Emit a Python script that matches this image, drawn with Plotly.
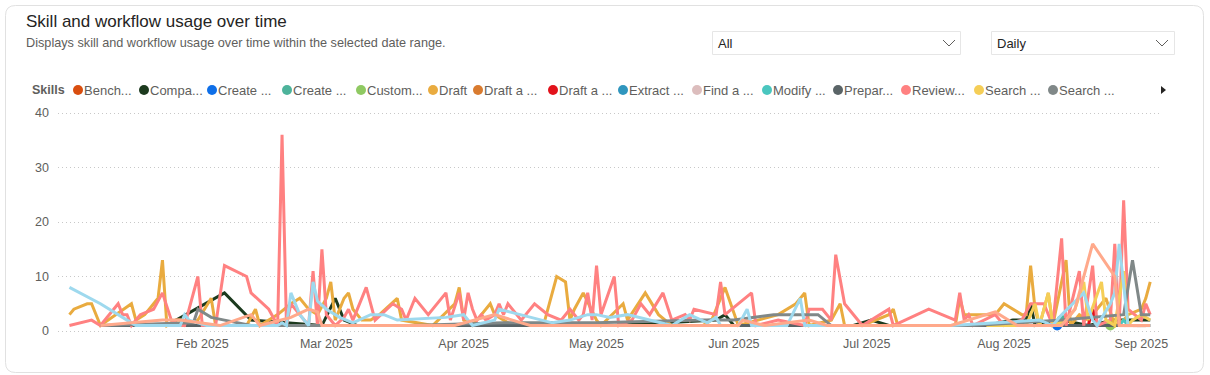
import plotly.graph_objects as go

W, H = 1210, 375

# ---------------- data ----------------
legend_names = ["Bench...", "Compa...", "Create ...", "Create ...", "Custom...", "Draft",
                "Draft a ...", "Draft a ...", "Extract ...", "Find a ...", "Modify ...",
                "Prepar...", "Review...", "Search ...", "Search ..."]
extra_names = ["Skill 16", "Skill 17"]

month_ticks = ["2025-02-01", "2025-03-01", "2025-04-01", "2025-05-01",
               "2025-06-01", "2025-07-01", "2025-08-01", "2025-09-01"]
month_labels = ["Feb 2025", "Mar 2025", "Apr 2025", "May 2025",
                "Jun 2025", "Jul 2025", "Aug 2025", "Sep 2025"]
y_ticks = [0, 10, 20, 30, 40]

bench_dates = ["2025-08-27", "2025-09-02"]
bench_values = [1, 1]

compa_dates = ["2025-01-25", "2025-02-06", "2025-02-12", "2025-02-20", "2025-02-28", "2025-03-03",
               "2025-03-05", "2025-03-08", "2025-04-08", "2025-05-05", "2025-05-28", "2025-05-30",
               "2025-06-01", "2025-06-28", "2025-07-02", "2025-07-06", "2025-07-28", "2025-08-03",
               "2025-08-06", "2025-08-07", "2025-08-08", "2025-08-14", "2025-08-20", "2025-08-26",
               "2025-09-03"]
compa_values = [1.5, 7, 2, 1.5, 1, 6, 2, 1, 1, 1, 2, 3, 1, 1, 2, 1, 1, 2, 2, 5, 1, 2, 1, 2, 2]

create1_dates = ["2025-08-13"]
create1_values = [1]

create2_dates = ["2025-08-14"]
create2_values = [2]

custom_dates = ["2025-08-25"]
custom_values = [1]

draft_dates = ["2025-01-02", "2025-01-03", "2025-01-06", "2025-01-07", "2025-01-09", "2025-01-16",
               "2025-01-17", "2025-01-19", "2025-01-20", "2025-01-22", "2025-01-23", "2025-01-24",
               "2025-01-26", "2025-01-27", "2025-01-28", "2025-01-31", "2025-02-03", "2025-02-04",
               "2025-02-11", "2025-02-13", "2025-02-14", "2025-02-18", "2025-02-21", "2025-02-23",
               "2025-02-25", "2025-02-27", "2025-03-01", "2025-03-02", "2025-03-03", "2025-03-05",
               "2025-03-06", "2025-03-07", "2025-03-09", "2025-03-11", "2025-03-13", "2025-03-17",
               "2025-03-18", "2025-03-25", "2025-03-30", "2025-03-31", "2025-04-01", "2025-04-03",
               "2025-04-05", "2025-04-07", "2025-04-08", "2025-04-12", "2025-04-19", "2025-04-22",
               "2025-04-24", "2025-04-25", "2025-04-26", "2025-04-28", "2025-05-01", "2025-05-02",
               "2025-05-07", "2025-05-08", "2025-05-12", "2025-05-15", "2025-05-18", "2025-05-25",
               "2025-05-27", "2025-05-30", "2025-06-02", "2025-06-11", "2025-06-15", "2025-06-17",
               "2025-06-18", "2025-06-23", "2025-06-25", "2025-06-26", "2025-06-30", "2025-07-06",
               "2025-07-07", "2025-07-08", "2025-07-21", "2025-07-22", "2025-07-23", "2025-07-28",
               "2025-07-30", "2025-08-01", "2025-08-05", "2025-08-06", "2025-08-07", "2025-08-08",
               "2025-08-09", "2025-08-11", "2025-08-12", "2025-08-15", "2025-08-16", "2025-08-18",
               "2025-08-20", "2025-08-24", "2025-08-26", "2025-08-28", "2025-08-29", "2025-09-01",
               "2025-09-02", "2025-09-03"]
draft_values = [3, 4, 5, 5, 1, 5,
                2, 3, 4, 6, 13, 1,
                2, 2, 1, 2, 6, 1,
                1, 4, 1, 3, 5, 6,
                4, 3, 6, 9, 2, 6,
                7, 4, 2, 2, 3, 6,
                2, 1, 5, 8, 2, 1,
                3, 5, 3, 1, 1, 10,
                9, 2, 4, 7, 2, 1,
                5, 2, 7, 3, 1, 1,
                2, 8, 1, 3, 5, 7,
                1, 2, 5, 1, 1, 3,
                4, 1, 1, 6, 3, 3,
                3, 5, 3, 3, 12, 4,
                1, 7, 1, 13, 1, 3,
                2, 6, 1, 2, 3, 4,
                6, 9]

drafta1_dates = ["2025-08-30", "2025-09-02"]
drafta1_values = [1, 1]

drafta2_dates = ["2025-08-20", "2025-08-21", "2025-08-22"]
drafta2_values = [1, 4, 1]

extract_dates = ["2025-08-31", "2025-09-03"]
extract_values = [1, 1]

finda_dates = ["2025-08-28", "2025-09-01"]
finda_values = [1, 1]

modify_dates = ["2025-08-27", "2025-08-28", "2025-08-29"]
modify_values = [1, 2, 1]

prepar_dates = ["2025-01-09", "2025-02-10", "2025-03-01", "2025-04-15", "2025-05-20", "2025-06-10",
                "2025-07-15", "2025-08-13", "2025-08-30", "2025-09-03"]
prepar_values = [1, 1, 1, 1, 1, 1, 1, 1, 1, 1]

review_dates = ["2025-01-02", "2025-01-07", "2025-01-09", "2025-01-13", "2025-01-14", "2025-01-15",
                "2025-01-16", "2025-01-18", "2025-01-21", "2025-01-23", "2025-01-25", "2025-01-27",
                "2025-01-28", "2025-01-31", "2025-02-01", "2025-02-04", "2025-02-06", "2025-02-11",
                "2025-02-12", "2025-02-16", "2025-02-18", "2025-02-19", "2025-02-20", "2025-02-21",
                "2025-02-23", "2025-02-25", "2025-02-26", "2025-02-27", "2025-02-28", "2025-03-01",
                "2025-03-03", "2025-03-05", "2025-03-06", "2025-03-07", "2025-03-10", "2025-03-12",
                "2025-03-16", "2025-03-18", "2025-03-19", "2025-03-21", "2025-03-24", "2025-03-28",
                "2025-03-29", "2025-03-31", "2025-04-01", "2025-04-02", "2025-04-03", "2025-04-04",
                "2025-04-05", "2025-04-06", "2025-04-08", "2025-04-09", "2025-04-10", "2025-04-11",
                "2025-04-14", "2025-04-17", "2025-04-20", "2025-04-23", "2025-04-25", "2025-04-27",
                "2025-04-28", "2025-04-29", "2025-04-30", "2025-05-01", "2025-05-02", "2025-05-05",
                "2025-05-06", "2025-05-09", "2025-05-11", "2025-05-13", "2025-05-16", "2025-05-18",
                "2025-05-21", "2025-05-22", "2025-05-23", "2025-05-28", "2025-05-29", "2025-05-30",
                "2025-06-05", "2025-06-06", "2025-06-11", "2025-06-17", "2025-06-18", "2025-06-21",
                "2025-06-23", "2025-06-24", "2025-06-26", "2025-06-30", "2025-07-04", "2025-07-06",
                "2025-07-07", "2025-07-15", "2025-07-21", "2025-07-22", "2025-07-23", "2025-07-24",
                "2025-07-25", "2025-07-30", "2025-08-01", "2025-08-05", "2025-08-07", "2025-08-10",
                "2025-08-12", "2025-08-14", "2025-08-15", "2025-08-18", "2025-08-19", "2025-08-21",
                "2025-08-22", "2025-08-25", "2025-08-26", "2025-08-27", "2025-08-28", "2025-08-29",
                "2025-09-01", "2025-09-02", "2025-09-03"]
review_values = [1, 2, 1, 5, 3, 3,
                 1, 3, 4, 7, 2, 1,
                 1, 10, 1, 1, 12, 10,
                 7, 4, 1, 36, 1, 5,
                 3, 1, 11, 1, 15, 3,
                 1, 2.5, 4, 2, 8, 2,
                 5, 4, 2, 6, 3, 7,
                 2, 7, 2, 7, 4, 2,
                 3, 2, 3, 5, 3, 5,
                 2, 5, 3, 2, 4, 2,
                 3, 7, 2, 12, 3, 10,
                 1, 2, 5, 3, 7, 2,
                 3, 2, 4, 3, 9, 3,
                 7, 1, 2, 1, 4, 4,
                 2, 14, 5, 1, 3, 4,
                 1, 4, 2, 7, 2, 3,
                 1, 3, 1, 2, 5, 5,
                 1, 17, 1, 11, 1, 12,
                 1, 2, 16, 1, 24, 4,
                 2, 5, 3]

search1_dates = ["2025-07-28", "2025-08-06", "2025-08-08", "2025-08-09", "2025-08-11", "2025-08-12",
                 "2025-08-15", "2025-08-17", "2025-08-19", "2025-08-20", "2025-08-23", "2025-08-24",
                 "2025-08-26", "2025-08-28", "2025-08-29", "2025-08-30", "2025-09-01", "2025-09-03"]
search1_values = [1, 1, 5, 1, 7, 1, 2, 4, 9, 2, 9, 2, 1, 11, 1, 2, 3, 2]

search2_dates = ["2025-01-09", "2025-01-30", "2025-01-31", "2025-02-03", "2025-02-06", "2025-02-12",
                 "2025-03-20", "2025-04-10", "2025-05-01", "2025-05-25", "2025-06-01", "2025-06-10",
                 "2025-06-20", "2025-06-23", "2025-07-25", "2025-08-14", "2025-08-28", "2025-08-30",
                 "2025-09-01", "2025-09-03"]
search2_values = [1, 1.5, 4, 2.5, 2, 1, 1, 1.5, 1.5, 2, 2, 3, 3, 1, 1, 2, 3, 13, 3, 3]

skill16_dates = ["2025-01-02", "2025-01-09", "2025-01-15", "2025-01-17", "2025-01-27", "2025-01-28",
                 "2025-01-29", "2025-02-02", "2025-02-18", "2025-02-19", "2025-02-20", "2025-02-21",
                 "2025-02-23", "2025-02-25", "2025-02-26", "2025-02-27", "2025-03-01", "2025-03-04",
                 "2025-03-07", "2025-03-11", "2025-03-14", "2025-03-17", "2025-03-28", "2025-04-01",
                 "2025-04-03", "2025-04-08", "2025-04-09", "2025-04-14", "2025-04-21", "2025-04-25",
                 "2025-04-29", "2025-05-01", "2025-05-04", "2025-05-08", "2025-05-18", "2025-05-22",
                 "2025-05-26", "2025-05-28", "2025-05-29", "2025-06-02", "2025-06-04", "2025-06-05",
                 "2025-06-13", "2025-06-16", "2025-06-17", "2025-07-20", "2025-08-09", "2025-08-12",
                 "2025-08-14", "2025-08-19", "2025-08-21", "2025-08-22", "2025-08-25", "2025-08-26",
                 "2025-08-27", "2025-08-29"]
skill16_values = [8, 5, 2, 1, 1, 3,
                  2, 1, 1, 1.5, 1, 7,
                  3, 1, 9, 5.5, 4, 2.5,
                  1.5, 3, 3, 2, 2.5, 3,
                  1, 2, 4, 3, 1.5, 2,
                  3, 3, 2.5, 3, 1, 3,
                  1.5, 2.5, 1, 1, 4, 1,
                  1, 6, 1, 1, 2, 1,
                  3, 7, 2, 1, 5, 7,
                  16, 1]

skill17_dates = ["2025-01-09", "2025-01-23", "2025-01-27", "2025-02-05", "2025-02-12", "2025-02-14",
                 "2025-02-21", "2025-02-25", "2025-02-27", "2025-02-28", "2025-03-30", "2025-04-08",
                 "2025-04-12", "2025-04-16", "2025-06-02", "2025-06-03", "2025-06-08", "2025-06-18",
                 "2025-06-22", "2025-07-20", "2025-07-30", "2025-08-04", "2025-08-14", "2025-08-17",
                 "2025-08-21", "2025-08-26", "2025-08-27", "2025-09-03"]
skill17_values = [1, 2, 2, 1, 3, 1,
                  2.5, 4, 3.5, 1, 1, 3,
                  2, 1, 1, 2, 1, 2,
                  1, 1, 3.5, 1, 1, 4,
                  16, 10, 1, 1]

# ---------------- styles ----------------
legend_colors = ["#D94E0F", "#1C3A1E", "#0F6FE8", "#4DB39B", "#8FC962", "#E9AB3F",
                 "#D97B2F", "#E2121B", "#3096BE", "#DCBDBD", "#4AC6BF", "#5A6467",
                 "#FF8181", "#F5CE57", "#808888"]
extra_colors = ["#9ED9EE", "#FFA98B"]
legend_x = [78, 144, 212, 287, 361, 433, 478, 553, 623, 697, 767, 838, 906, 979, 1053]

FONT = "Liberation Sans, Arial, sans-serif"
GRAY = "#605E5C"
DARK = "#252423"


def px(x):
    return x / W


def py(y):
    return 1 - y / H


series = [
    (legend_names[0], bench_dates, bench_values, legend_colors[0]),
    (legend_names[1], compa_dates, compa_values, legend_colors[1]),
    (legend_names[2], create1_dates, create1_values, legend_colors[2]),
    (legend_names[3], create2_dates, create2_values, legend_colors[3]),
    (legend_names[4], custom_dates, custom_values, legend_colors[4]),
    (legend_names[5], draft_dates, draft_values, legend_colors[5]),
    (legend_names[6], drafta1_dates, drafta1_values, legend_colors[6]),
    (legend_names[7], drafta2_dates, drafta2_values, legend_colors[7]),
    (legend_names[8], extract_dates, extract_values, legend_colors[8]),
    (legend_names[9], finda_dates, finda_values, legend_colors[9]),
    (legend_names[10], modify_dates, modify_values, legend_colors[10]),
    (legend_names[11], prepar_dates, prepar_values, legend_colors[11]),
    (legend_names[12], review_dates, review_values, legend_colors[12]),
    (legend_names[13], search1_dates, search1_values, legend_colors[13]),
    (legend_names[14], search2_dates, search2_values, legend_colors[14]),
    (extra_names[0], skill16_dates, skill16_values, extra_colors[0]),
    (extra_names[1], skill17_dates, skill17_values, extra_colors[1]),
]

fig = go.Figure()
for name, d, v, c in series:
    fig.add_trace(go.Scatter(
        x=d, y=v, name=name,
        mode="lines" if len(v) > 1 else "markers",
        line=dict(color=c, width=3),
        marker=dict(color=c, size=10),
        showlegend=False, hoverinfo="x+y+name",
    ))

shapes = []
# card border (rounded)
x0, y0, x1, y1, r = 5.5, 5.5, 1203.5, 372.5, 10
card = (f"M {px(x0 + r)},{py(y0)} L {px(x1 - r)},{py(y0)} Q {px(x1)},{py(y0)} {px(x1)},{py(y0 + r)} "
        f"L {px(x1)},{py(y1 - r)} Q {px(x1)},{py(y1)} {px(x1 - r)},{py(y1)} "
        f"L {px(x0 + r)},{py(y1)} Q {px(x0)},{py(y1)} {px(x0)},{py(y1 - r)} "
        f"L {px(x0)},{py(y0 + r)} Q {px(x0)},{py(y0)} {px(x0 + r)},{py(y0)} Z")
shapes.append(dict(type="path", xref="paper", yref="paper", path=card,
                   line=dict(color="#E1E1E1", width=1), layer="below"))

# dropdown boxes + chevrons
for bx0, bx1, cx in [(712.5, 960.5, 949), (991.5, 1174.5, 1162)]:
    shapes.append(dict(type="rect", xref="paper", yref="paper",
                       x0=px(bx0), x1=px(bx1), y0=py(54.5), y1=py(31.5),
                       line=dict(color="#E6E6E6", width=1), fillcolor="white"))
    shapes.append(dict(type="path", xref="paper", yref="paper",
                       path=f"M {px(cx - 6)},{py(40)} L {px(cx)},{py(46)} L {px(cx + 6)},{py(40)}",
                       line=dict(color=GRAY, width=1)))

# legend markers
for lx, c in zip(legend_x, legend_colors):
    shapes.append(dict(type="circle", xref="paper", yref="paper",
                       x0=px(lx - 5), x1=px(lx + 5), y0=py(95), y1=py(85),
                       fillcolor=c, line=dict(width=0)))
# legend scroll arrow
shapes.append(dict(type="path", xref="paper", yref="paper",
                   path=f"M {px(1161)},{py(86)} L {px(1166)},{py(90)} L {px(1161)},{py(94)} Z",
                   fillcolor=DARK, line=dict(width=0)))

annotations = [
    dict(text="Skill and workflow usage over time", x=px(24), y=py(22),
         font=dict(size=17, color=DARK, family=FONT)),
    dict(text="Displays skill and workflow usage over time within the selected date range.",
         x=px(24), y=py(43), font=dict(size=12.7, color=GRAY, family=FONT)),
    dict(text="All", x=px(716), y=py(43), font=dict(size=13, color=DARK, family=FONT)),
    dict(text="Daily", x=px(995), y=py(43), font=dict(size=13, color=DARK, family=FONT)),
    dict(text="<b>Skills</b>", x=px(30), y=py(90), font=dict(size=12.5, color=GRAY, family=FONT)),
]
for lx, name in zip(legend_x, legend_names):
    annotations.append(dict(text=name, x=px(lx + 4), y=py(90),
                            font=dict(size=13, color=GRAY, family=FONT)))
for a in annotations:
    a.update(xref="paper", yref="paper", xanchor="left", yanchor="middle", showarrow=False)

fig.update_layout(
    width=W, height=H, autosize=False,
    margin=dict(l=0, r=0, t=0, b=0, pad=0, autoexpand=False),
    paper_bgcolor="white", plot_bgcolor="white",
    showlegend=False,
    font=dict(family=FONT, size=12, color=GRAY),
    shapes=shapes, annotations=annotations,
    xaxis=dict(
        domain=[px(58), px(1160)],
        type="date", automargin=False,
        range=["2024-12-30 10:00", "2025-09-05 05:00"],
        tickvals=month_ticks, ticktext=month_labels,
        showgrid=False, zeroline=False, showline=False, ticks="",
        tickfont=dict(size=12.5, color=GRAY, family=FONT),
    ),
    yaxis=dict(
        domain=[py(334), py(100)], automargin=False,
        range=[-0.55, 42.39],
        tickvals=y_ticks,
        showgrid=True, gridcolor="#C8C8C8", griddash="1px,3px", gridwidth=1,
        zeroline=False, showline=False, ticks="",
        tickfont=dict(size=12.5, color=GRAY, family=FONT),
        ticklabelstandoff=8,
    ),
)

page_css = "document.body.style.margin='0';document.body.style.overflow='hidden';"

fig.write_html("out.html", config={"displayModeBar": False}, post_script=page_css)
